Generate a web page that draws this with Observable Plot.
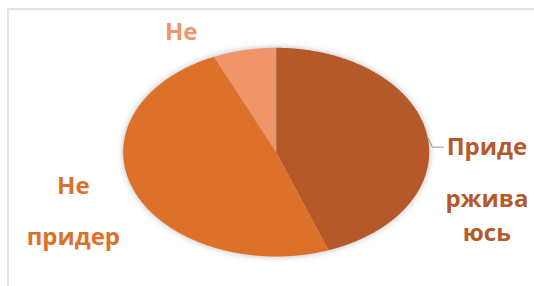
<!DOCTYPE html>
<html><head><meta charset="utf-8">
<script src="https://cdn.jsdelivr.net/npm/d3@7"></script>
<script src="https://cdn.jsdelivr.net/npm/@observablehq/plot@0.6"></script>
<style>
html,body{margin:0;padding:0;background:#fff;overflow:hidden;}
#wrap{position:relative;width:534px;height:286px;overflow:hidden;}
#frame{position:absolute;left:7px;top:8px;width:600px;height:400px;border-left:2px solid #e3e3e3;border-top:2px solid #e3e3e3;}
#chart{position:absolute;left:0;top:0;}
</style></head><body>
<div id="wrap"><div id="frame"></div><div id="chart"></div></div>
<script>
// data
const categories = ["Придерживаюсь", "Не придерживаюсь", "Не знаю"];
const values = [20, 22, 3];
const labelLines = [["Приде", "ржива", "юсь"], ["Не", "придер"], ["Не"]];
const colors = ["#B5592A", "#DD7129", "#F0956A"];

// layout (pixel offsets of label lines from slice mid-angle point)
const labelLayout = [
  {dx: 60, dy: [21.4, 73.1, 107.1]},
  {dx: -61, dy: [2.5, 54.2]},
  {dx: -63.2, dy: [-10.4]}
];
// leader for first slice: [radius factor, angle offset deg]
const leaderShape = [[1, 1.7], [1.022, 7.3], [1.093, 7.5]];

const arcs = d3.pie().sort(null).value(d => d)(values);
const pt = (r, a) => ({x: r * Math.sin(a), y: r * Math.cos(a)});

const slicePts = [];
arcs.forEach((a, i) => {
  const cat = categories[i];
  slicePts.push({...pt(0, 0), cat});
  const n = Math.max(4, Math.ceil((a.endAngle - a.startAngle) / 0.005));
  for (let k = 0; k <= n; k++) {
    const ang = a.startAngle + (a.endAngle - a.startAngle) * k / n;
    slicePts.push({...pt(1, ang), cat});
  }
  slicePts.push({...pt(0, 0), cat});
});

const marks = [
  Plot.line(slicePts, {x: "x", y: "y", z: "cat", fill: "cat", stroke: null, curve: "linear"})
];

arcs.forEach((a, i) => {
  const mid = (a.startAngle + a.endAngle) / 2;
  const p = pt(1, mid);
  labelLines[i].forEach((line, j) => {
    marks.push(Plot.text([{...p, cat: categories[i], line}], {
      x: "x", y: "y", text: "line", fill: "cat",
      dx: labelLayout[i].dx, dy: labelLayout[i].dy[j],
      textAnchor: "middle", lineAnchor: "bottom",
      fontSize: 24, fontWeight: 700, fontFamily: "Open Sans"
    }));
  });
});

const mid0 = (arcs[0].startAngle + arcs[0].endAngle) / 2;
const leader = leaderShape.map(([r, d]) => pt(r, mid0 + d * Math.PI / 180));
marks.push(Plot.line(leader, {x: "x", y: "y", stroke: "#A8A8A8", strokeWidth: 1.2}));

const chart = Plot.plot({
  width: 534, height: 286,
  marginLeft: 122.7, marginRight: 105.3, marginTop: 47.3, marginBottom: 30,
  x: {domain: [-1, 1], axis: null},
  y: {domain: [-1, 1], axis: null},
  color: {domain: categories, range: colors},
  style: {background: "transparent", overflow: "visible"},
  marks
});
d3.select(chart).select('g[aria-label="line"]').style("filter", "drop-shadow(0px 0px 3px rgba(0,0,0,0.28))");
document.getElementById("chart").appendChild(chart);
</script>
</body></html>
